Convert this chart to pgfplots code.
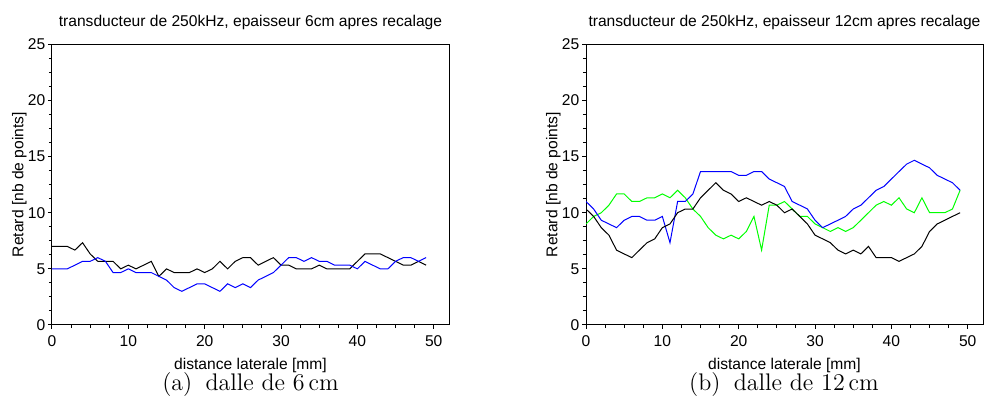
\documentclass[border=0pt]{standalone}
\usepackage{fontspec}
\usepackage{pgfplots}
\pgfplotsset{compat=1.18}
\newfontfamily\arial{Liberation Sans}
\definecolor{pgreen}{rgb}{0,1,0}
\pgfplotsset{mystyle/.style={
  scale only axis, width=198.5pt, height=140.35pt,
  xmin=0,xmax=52,ymin=0,ymax=25,
  xtick={0,10,...,50}, ytick={0,5,...,25},
  minor x tick num=3, minor y tick num=3,
  tick align=outside, xtick pos=bottom, ytick pos=left,
  major tick length=2pt, minor tick length=1.6pt,
  axis line style={line width=0.5pt},
  every tick/.style={black, line width=0.5pt},
  /pgf/number format/assume math mode=true,
  tick label style={font=\arial\fontsize{7.8}{9}\selectfont},
  yticklabel style={inner sep=1.2pt},
  every axis title/.style={at={(axis description cs:0.5,1)}, anchor=base, yshift=8.8pt, font=\arial\fontsize{7.8}{9}\selectfont},
  every axis x label/.style={at={(axis description cs:0.5,0)}, anchor=base, yshift=-22.3pt, font=\arial\fontsize{7.8}{9}\selectfont},
  every axis y label/.style={at={(axis description cs:-0.0723,0.5)}, anchor=base, rotate=90, font=\arial\fontsize{7.8}{9}\selectfont},
  xlabel={distance laterale [mm]},
  ylabel={Retard [nb de points]},
  every axis plot/.append style={line width=0.5pt, mark=none},
}}
\begin{document}
\begin{tikzpicture}
\path[use as bounding box] (0,0) rectangle (492pt,198pt);
\begin{axis}[mystyle, at={(26pt,35.5pt)}, anchor=south west,
  title={transducteur de 250kHz, epaisseur 6cm apres recalage}]
\addplot[black] coordinates {
(0,7)(1,7)(2,7)(3,6.67)(4,7.33)(5,6.33)(6,5.67)(7,5.67)(8,5.67)(9,5)
(10,5.33)(11,5)(12,5.33)(13,5.67)(14,4.33)(15,5)(16,4.67)(17,4.67)(18,4.67)(19,5)
(20,4.67)(21,5)(22,5.67)(23,5)(24,5.67)(25,6)(26,6)(27,5.33)(28,5.67)(29,6)
(30,5.33)(31,5.33)(32,5)(33,5)(34,5)(35,5.33)(36,5)(37,5)(38,5)(39,5)
(40,5.67)(41,6.33)(42,6.33)(43,6.33)(44,6)(45,5.67)(46,5.33)(47,5.33)(48,5.67)(49,5.33)};
\addplot[blue] coordinates {
(0,5)(1,5)(2,5)(3,5.33)(4,5.67)(5,5.67)(6,6)(7,5.67)(8,4.67)(9,4.67)
(10,5)(11,4.67)(12,4.67)(13,4.67)(14,4.33)(15,4)(16,3.33)(17,3)(18,3.33)(19,3.67)
(20,3.67)(21,3.33)(22,3)(23,3.67)(24,3.33)(25,3.67)(26,3.33)(27,4)(28,4.33)(29,4.67)
(30,5.33)(31,6)(32,6)(33,5.67)(34,6)(35,5.67)(36,5.67)(37,5.33)(38,5.33)(39,5.33)
(40,5)(41,5.67)(42,5.33)(43,5)(44,5)(45,5.67)(46,6)(47,6)(48,5.67)(49,6)};
\end{axis}
\begin{axis}[mystyle, at={(293pt,35.5pt)}, anchor=south west,
  title={transducteur de 250kHz, epaisseur 12cm apres recalage}]
\addplot[pgreen] coordinates {
(0,9)(1,9.67)(2,10)(3,10.67)(4,11.67)(5,11.67)(6,11)(7,11)(8,11.33)(9,11.33)
(10,11.67)(11,11.33)(12,12)(13,11.33)(14,10.33)(15,9.67)(16,8.67)(17,8)(18,7.67)(19,8)
(20,7.67)(21,8.33)(22,9.67)(23,6.67)(24,10.67)(25,10.67)(26,11)(27,10.33)(28,9.67)(29,9.67)
(30,9)(31,8.67)(32,8.33)(33,8.67)(34,8.33)(35,8.67)(36,9.33)(37,10)(38,10.67)(39,11)
(40,10.67)(41,11.33)(42,10.33)(43,10)(44,11.33)(45,10)(46,10)(47,10)(48,10.33)(49,12)};
\addplot[blue] coordinates {
(0,11)(1,10.33)(2,9.33)(3,9)(4,8.67)(5,9.33)(6,9.67)(7,9.67)(8,9.33)(9,9.33)
(10,9.67)(11,7.33)(12,11)(13,11)(14,11.67)(15,13.67)(16,13.67)(17,13.67)(18,13.67)(19,13.67)
(20,13.33)(21,13.33)(22,13.67)(23,13.67)(24,13)(25,12.67)(26,12.33)(27,11)(28,10.67)(29,10.33)
(30,9.33)(31,8.67)(32,9)(33,9.33)(34,9.67)(35,10.33)(36,10.67)(37,11.33)(38,12)(39,12.33)
(40,13)(41,13.67)(42,14.33)(43,14.67)(44,14.33)(45,14)(46,13.33)(47,13)(48,12.67)(49,12)};
\addplot[black] coordinates {
(0,10.33)(1,9.67)(2,8.67)(3,8)(4,6.67)(5,6.33)(6,6)(7,6.67)(8,7.33)(9,7.67)
(10,8.67)(11,9)(12,10)(13,10.33)(14,10.33)(15,11.33)(16,12)(17,12.67)(18,12)(19,11.67)
(20,11)(21,11.33)(22,11)(23,10.67)(24,11)(25,10.67)(26,10)(27,10.33)(28,9.67)(29,9)
(30,8)(31,7.67)(32,7.33)(33,6.67)(34,6.33)(35,6.67)(36,6.33)(37,7)(38,6)(39,6)
(40,6)(41,5.67)(42,6)(43,6.33)(44,7)(45,8.33)(46,9)(47,9.33)(48,9.67)(49,10)};
\end{axis}
\node[anchor=base, font=\fontsize{12}{14}\selectfont] at (125.25pt,3pt) {(a)\hspace{0.55em}dalle de 6\,cm};
\node[anchor=base, font=\fontsize{12}{14}\selectfont] at (392pt,3pt) {(b)\hspace{0.55em}dalle de 12\,cm};
\end{tikzpicture}
\end{document}
